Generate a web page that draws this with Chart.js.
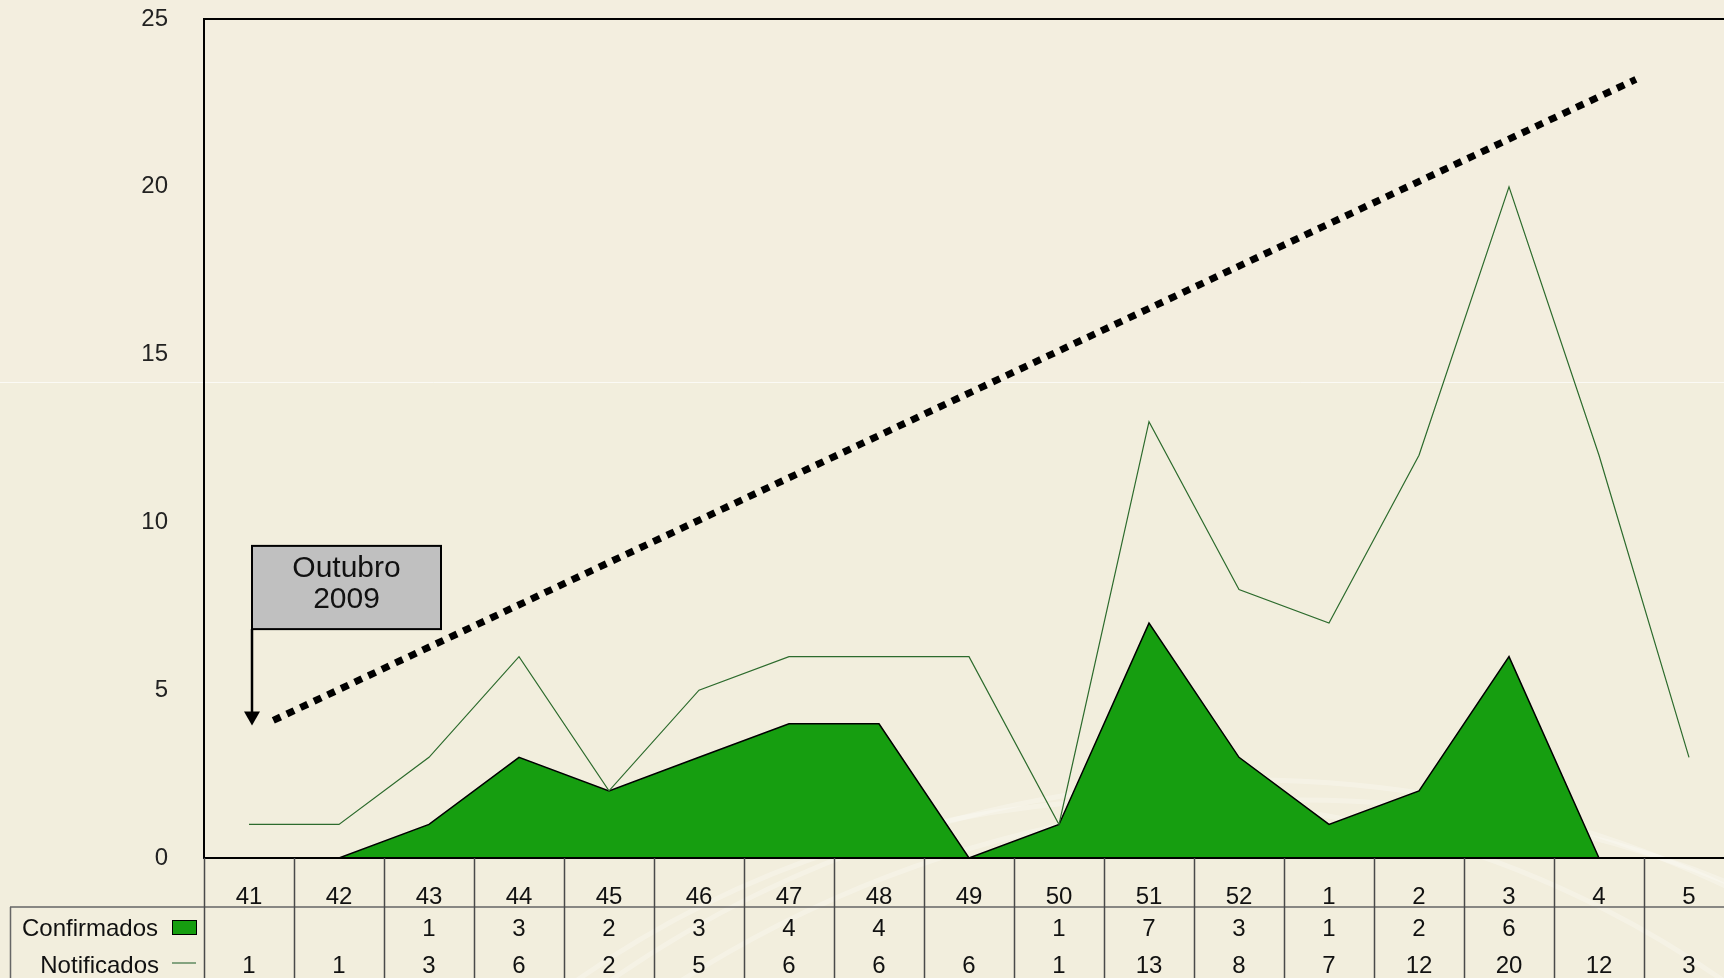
<!DOCTYPE html>
<html>
<head>
<meta charset="utf-8">
<title>Casos notificados e confirmados</title>
<script src="https://cdn.jsdelivr.net/npm/chart.js@4.4.1/dist/chart.umd.min.js"></script>
<style>
    html, body { margin: 0; padding: 0; background: #F3EEDF; overflow: hidden; }
    #wrap { position: relative; width: 1734px; height: 978px; }
</style>
</head>
<body>
<div id="wrap"><canvas id="casosChart"></canvas></div>
<script>
// semanas epidemiologicas (41/2009 ate 5/2010)
const semanas = ['41', '42', '43', '44', '45', '46', '47', '48', '49', '50', '51', '52', '1', '2', '3', '4', '5'];
const confirmados = [0, 0, 1, 3, 2, 3, 4, 4, 0, 1, 7, 3, 1, 2, 6, 0, null];
const notificados = [1, 1, 3, 6, 2, 5, 6, 6, 6, 1, 13, 8, 7, 12, 20, 12, 3];
const yTicks = [0, 5, 10, 15, 20, 25];

// linha de tendencia pontilhada (posicao em semanas / casos)
const tendenciaX = [0.27, 15.41];
const tendenciaY = [4.1, 23.2];

const rotuloSeta = ['Outubro', '2009'];

const FONT = '"Liberation Sans", Arial, sans-serif';
Chart.defaults.font.family = FONT;

// fundo creme com faixas claras
const fundoPlugin = {
    id: 'fundo',
    beforeDraw(chart) {
        const ctx = chart.ctx;
        ctx.save();
        ctx.fillStyle = '#F3EEDF';
        ctx.fillRect(0, 0, chart.width, chart.height);
        ctx.fillStyle = '#F2EEDD';
        ctx.fillRect(0, 382, chart.width, chart.height - 382);
        ctx.strokeStyle = 'rgba(255,255,255,0.7)';
        ctx.lineWidth = 1;
        ctx.beginPath();
        ctx.moveTo(0, 382.5);
        ctx.lineTo(chart.width, 382.5);
        ctx.stroke();
        ctx.strokeStyle = 'rgba(255,255,255,0.25)';
        ctx.lineWidth = 5;
        [[1250, 1900, 1120], [1300, 1950, 1150], [1150, 1800, 1000]].forEach(([cx, cy, r]) => {
            ctx.beginPath();
            ctx.arc(cx, cy, r, Math.PI * 1.15, Math.PI * 1.75);
            ctx.stroke();
        });
        ctx.restore();
    }
};

// moldura da area do grafico
const molduraPlugin = {
    id: 'moldura',
    afterDatasetsDraw(chart) {
        const { ctx, chartArea } = chart;
        ctx.save();
        ctx.strokeStyle = '#000';
        ctx.lineWidth = 2;
        ctx.beginPath();
        ctx.moveTo(chartArea.right + 5, chartArea.top);
        ctx.lineTo(chartArea.left, chartArea.top);
        ctx.lineTo(chartArea.left, chartArea.bottom);
        ctx.lineTo(chartArea.right + 5, chartArea.bottom);
        ctx.stroke();
        ctx.restore();
    }
};

// caixa "Outubro 2009" com seta
const setaPlugin = {
    id: 'seta',
    afterDatasetsDraw(chart) {
        const { ctx, scales: { x, y } } = chart;
        const x0 = x.getPixelForValue(0) + 3;
        const tipY = y.getPixelForValue(3.95);
        const boxTop = y.getPixelForValue(9.3);
        const boxBottom = y.getPixelForValue(6.82);
        const boxW = 189;
        ctx.save();
        ctx.fillStyle = '#C0C0C0';
        ctx.fillRect(x0, boxTop, boxW, boxBottom - boxTop);
        ctx.strokeStyle = '#000';
        ctx.lineWidth = 2;
        ctx.strokeRect(x0, boxTop, boxW, boxBottom - boxTop);

        ctx.lineWidth = 2.5;
        ctx.beginPath();
        ctx.moveTo(x0, boxBottom);
        ctx.lineTo(x0, tipY - 13);
        ctx.stroke();
        ctx.fillStyle = '#000';
        ctx.beginPath();
        ctx.moveTo(x0 - 8, tipY - 14);
        ctx.lineTo(x0 + 8, tipY - 14);
        ctx.lineTo(x0, tipY);
        ctx.closePath();
        ctx.fill();

        ctx.fillStyle = '#111';
        ctx.font = '30px ' + FONT;
        ctx.textAlign = 'center';
        ctx.textBaseline = 'middle';
        ctx.fillText(rotuloSeta[0], x0 + boxW / 2, boxTop + 23);
        ctx.fillText(rotuloSeta[1], x0 + boxW / 2, boxTop + 54);
        ctx.restore();
    }
};

// tabela de dados abaixo do eixo
const tabelaPlugin = {
    id: 'tabela',
    afterDraw(chart) {
        const { ctx, chartArea, scales: { x } } = chart;
        const base = chartArea.bottom;
        const w = x.getPixelForValue(1) - x.getPixelForValue(0);
        const first = x.getPixelForValue(0) - w / 2;
        ctx.save();

        ctx.strokeStyle = '#666';
        ctx.lineWidth = 1.5;
        ctx.beginPath();
        ctx.moveTo(10, base + 49);
        ctx.lineTo(chart.width, base + 49);
        ctx.moveTo(10.5, base + 49);
        ctx.lineTo(10.5, chart.height);
        ctx.stroke();

        ctx.strokeStyle = '#4a4a4a';
        ctx.beginPath();
        for (let i = 0; i <= semanas.length; i++) {
            const px = Math.round(first + i * w) + 0.5;
            ctx.moveTo(px, base);
            ctx.lineTo(px, chart.height);
        }
        ctx.stroke();

        ctx.fillStyle = '#111';
        ctx.font = '24px ' + FONT;
        ctx.textBaseline = 'middle';
        ctx.textAlign = 'center';
        semanas.forEach((s, i) => {
            const cx = x.getPixelForValue(i);
            ctx.fillText(s, cx, base + 39);
            if (confirmados[i]) ctx.fillText(String(confirmados[i]), cx, base + 71);
            if (notificados[i] !== null) ctx.fillText(String(notificados[i]), cx, base + 108);
        });

        ctx.textAlign = 'right';
        ctx.fillText('Confirmados', 158, base + 71);
        ctx.fillText('Notificados', 159, base + 108);

        ctx.fillStyle = '#169E10';
        ctx.fillRect(172, base + 62, 24, 14);
        ctx.strokeStyle = '#000';
        ctx.lineWidth = 1;
        ctx.strokeRect(172.5, base + 62.5, 24, 14);

        ctx.strokeStyle = '#5f8a5f';
        ctx.lineWidth = 1.5;
        ctx.beginPath();
        ctx.moveTo(172, base + 105);
        ctx.lineTo(196, base + 105);
        ctx.stroke();
        ctx.restore();
    }
};

const ctx = document.getElementById('casosChart').getContext('2d');
new Chart(ctx, {
    type: 'line',
    data: {
        labels: semanas,
        datasets: [
            {
                label: 'Tendência',
                data: tendenciaX.map((v, i) => ({ x: v, y: tendenciaY[i] })),
                xAxisID: 'xTrend',
                borderColor: '#000',
                borderWidth: 7,
                borderDash: [8, 7],
                borderCapStyle: 'butt',
                pointRadius: 0,
                fill: false,
                order: 0
            },
            {
                label: 'Notificados',
                data: notificados,
                borderColor: '#2d6b2d',
                borderWidth: 1.2,
                pointRadius: 0,
                tension: 0,
                fill: false,
                order: 1
            },
            {
                label: 'Confirmados',
                data: confirmados,
                borderColor: '#000',
                borderWidth: 1.5,
                backgroundColor: '#169E10',
                pointRadius: 0,
                tension: 0,
                fill: 'origin',
                order: 2
            }
        ]
    },
    options: {
        responsive: true,
        maintainAspectRatio: false,
        animation: false,
        layout: {
            padding: { left: 0, right: 0, top: 19, bottom: 120 }
        },
        plugins: {
            legend: { display: false },
            title: { display: false },
            tooltip: { enabled: false }
        },
        scales: {
            x: {
                type: 'category',
                offset: true,
                display: false,
                grid: { display: false }
            },
            xTrend: {
                type: 'linear',
                min: -0.5,
                max: 16.5,
                display: false
            },
            y: {
                min: 0,
                max: 25,
                afterBuildTicks: scale => { scale.ticks = yTicks.map(v => ({ value: v })); },
                afterFit: scale => {
                    scale.width = 204;
                    scale.paddingTop = 0;
                    scale.paddingBottom = 0;
                },
                grid: { display: false },
                border: { display: false },
                ticks: {
                    color: '#222',
                    padding: 28,
                    font: { size: 24 }
                }
            }
        }
    },
    plugins: [fundoPlugin, molduraPlugin, setaPlugin, tabelaPlugin]
});
</script>
</body>
</html>
